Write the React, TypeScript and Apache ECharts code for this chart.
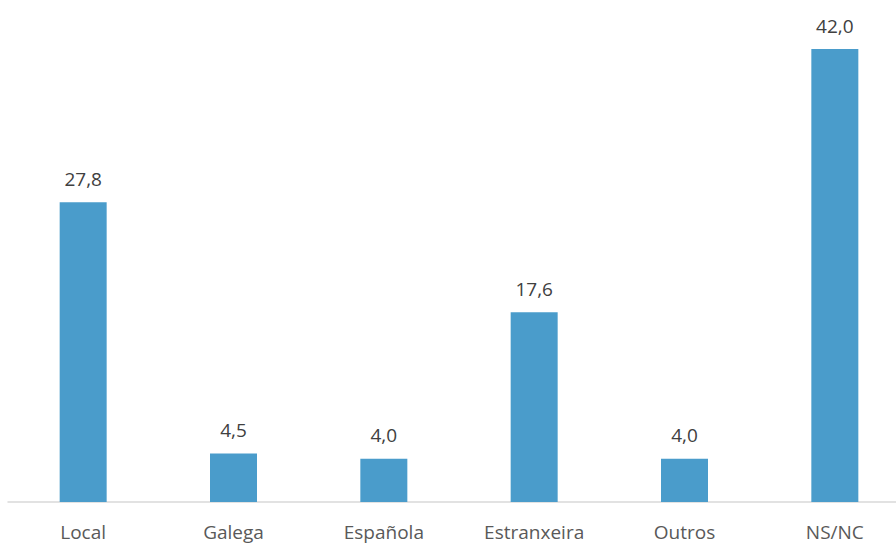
import React, { useEffect, useRef } from "react";
import * as echarts from "echarts";

const categories = ["Local", "Galega", "Española", "Estranxeira", "Outros", "NS/NC"];
const values = [27.8, 4.5, 4.0, 17.6, 4.0, 42.0];

export default function App() {
  const ref = useRef<HTMLDivElement>(null);
  useEffect(() => {
    const chart = echarts.init(ref.current!, null, { renderer: "svg" });
    chart.setOption({
      animation: false,
      grid: { left: 8, right: 0, top: 49, bottom: 41, containLabel: false },
      xAxis: {
        type: "category",
        data: categories,
        axisLine: { show: true, lineStyle: { color: "#d9d9d9", width: 1.5 } },
        axisTick: { show: false },
        axisLabel: {
          color: "#595959",
          fontSize: 19,
          fontFamily: "Open Sans",
          margin: 20,
          interval: 0,
        },
      },
      yAxis: {
        type: "value",
        min: 0,
        max: 42,
        show: false,
        splitLine: { show: false },
      },
      series: [
        {
          type: "bar",
          data: values,
          barWidth: 47,
          itemStyle: { color: "#4a9ccb" },
          label: {
            show: true,
            position: "top",
            distance: 14,
            color: "#404040",
            fontSize: 19,
            fontFamily: "Open Sans",
            formatter: (p: any) => p.value.toFixed(1).replace(".", ","),
          },
        },
      ],
    });
    return () => chart.dispose();
  }, []);
  return (
    <div style={{ width: 896, height: 543, position: "absolute", left: 0, top: 0, overflow: "hidden" }}>
      <div ref={ref} style={{ width: 910, height: 543 }} />
    </div>
  );
}
